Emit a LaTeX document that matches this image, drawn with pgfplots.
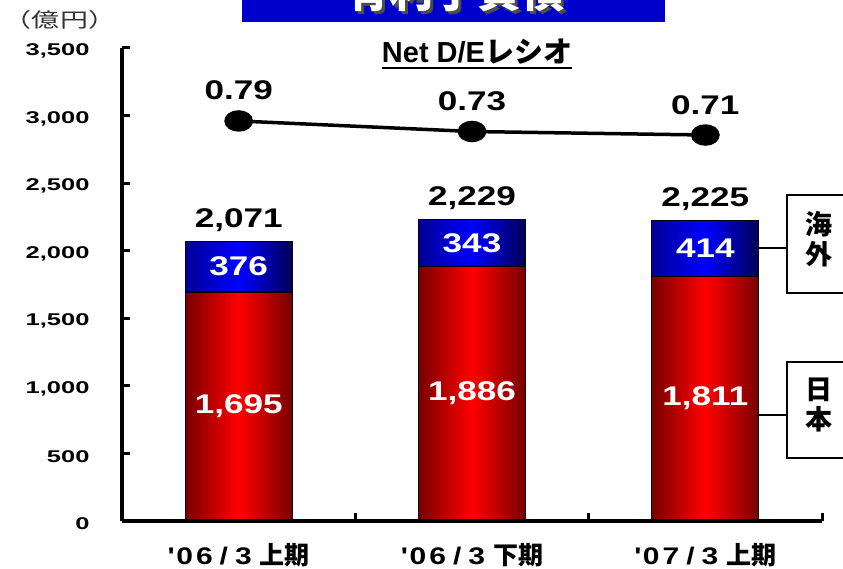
\documentclass[border=0pt]{standalone}
\usepackage{fontspec}
\setmainfont{Liberation Sans}[FakeStretch=1.3]
\newfontfamily\tickfont{Liberation Sans}[FakeStretch=1.5]
\newfontfamily\catfont{Liberation Sans}[FakeStretch=1.25]
\newfontfamily\plainsans{Liberation Sans}
\newfontfamily\cjk{Noto Sans CJK JP}
\usepackage{pgfplots}
\usepackage{pgfplotstable}
\pgfplotsset{compat=1.18}

\definecolor{barred}{RGB}{255,0,0}
\definecolor{darkred}{RGB}{120,0,0}
\definecolor{barblue}{RGB}{0,0,255}
\definecolor{leftblue}{RGB}{0,0,150}
\definecolor{darkblue}{RGB}{0,0,85}
\definecolor{titleblue}{RGB}{0,0,204}

\pgfkeys{/pgf/number format/.cd, 1000 sep={,}, assume math mode=true}

% interest-bearing debt (100 million yen) and Net D/E ratio
\pgfplotstableread{
x jp os total de
0 1695 376 2071 0.79
1 1886 343 2229 0.73
2 1811 414 2225 0.71
}\debt

\pgfplotsset{
  base/.style={
    scale only axis, width=700pt, height=473pt,
    xmin=-0.5, xmax=2.5,
    at={(122pt,47pt)}, anchor=south west,
  },
  barlabel/.style={
    every node near coord/.append style={font=\bfseries\fontsize{27}{27}\selectfont},
  },
}
\newcommand{\cat}[3]{{\catfont\bfseries\textquotesingle\kern3pt#1\kern3pt#2\kern7pt/\kern7pt3}\hspace{8pt}{\cjk\bfseries\fontsize{25}{25}\selectfont #3}}

\begin{document}
\begin{tikzpicture}[x=1pt,y=1pt]
% title box, cut by the top edge of the page
\fill[titleblue] (242,546) rectangle (665,640);
\node[anchor=base, text=black!70, font=\cjk\bfseries\fontsize{44}{44}\selectfont] at (458,557) {有利子負債};
\node[anchor=base, text=white, font=\cjk\bfseries\fontsize{44}{44}\selectfont] at (455,560) {有利子負債};

% unit
\node[text=black!80, font=\cjk\fontsize{20}{20}\selectfont, xscale=1.4, transform shape] at (60,548) {（億円）};

% subtitle
\node (st) [anchor=base, inner sep=0pt, font=\bfseries\fontsize{29}{29}\selectfont] at (477,505)
  {{\plainsans Net D/E}{\cjk\bfseries レシオ}};
\draw[line width=2.4pt] ([yshift=-5pt]st.base west) -- ([yshift=-5pt]st.base east);

% stacked bars, one axis per period so each bar gets its own shading
\pgfplotsinvokeforeach{0,1,2}{
\begin{axis}[base, hide axis, ymin=0, ymax=3500,
  ybar stacked, bar width=107pt]
\addplot[draw=black, line width=1.2pt, left color=darkred, right color=darkred, middle color=barred]
  table[x=x, y=jp, restrict x to domain=#1:#1] {\debt};
\addplot[draw=black, line width=1.2pt, left color=leftblue, right color=darkblue, middle color=barblue]
  table[x=x, y=os, restrict x to domain=#1:#1] {\debt};
\end{axis}
}

% labels inside and above the bars
\begin{axis}[base, hide axis, ymin=0, ymax=3500, nodes near coords, barlabel]
\addplot[draw=none, mark=none, point meta=\thisrow{jp},
  every node near coord/.append style={anchor=center, text=white}]
  table[x=x, y expr=\thisrow{jp}/2] {\debt};
\addplot[draw=none, mark=none, point meta=\thisrow{os},
  every node near coord/.append style={anchor=center, text=white}]
  table[x=x, y expr=\thisrow{jp}+\thisrow{os}/2] {\debt};
\addplot[draw=none, mark=none, point meta=\thisrow{total},
  every node near coord/.append style={anchor=base, yshift=14pt, text=black}]
  table[x=x, y=total] {\debt};
\end{axis}

% axis frame, ticks and category names
\begin{axis}[base,
  ymin=0, ymax=3500,
  axis lines*=left,
  axis line style={line width=3.5pt, black},
  tick align=inside,
  major tick length=8pt,
  tick style={line width=3pt, black},
  ytick={0,500,...,3500},
  yticklabel style={font=\tickfont\bfseries\fontsize{17}{17}\selectfont, xshift=-29pt, yshift=-3pt},
  xtick={0.5,1.5,2.5}, xticklabels={},
  extra x ticks={0,1,2},
  extra x tick labels={\cat{0}{6}{上期}, \cat{0}{6}{下期}, \cat{0}{7}{上期}},
  extra x tick style={major tick length=0pt,
    xticklabel style={font=\fontsize{24}{24}\selectfont, anchor=center, yshift=-34pt}},
]
\addplot[draw=none] coordinates {(0,0)};
\end{axis}

% Net D/E ratio line
\begin{axis}[base, hide axis, ymin=-1.487, ymax=1.2054,
  nodes near coords={\pgfmathprintnumber[fixed, fixed zerofill, precision=2]{\pgfplotspointmeta}},
  every node near coord/.append style={anchor=base, yshift=21pt,
    font=\bfseries\fontsize{27}{27}\selectfont, text=black},
]
\addplot[black, line width=3.5pt, mark=*, mark size=9pt,
  mark options={xscale=1.4, fill=black}]
  table[x=x, y=de] {\debt};
\end{axis}

% side labels
\draw[line width=1.5pt] (757,320) -- (787,320);
\draw[line width=1.5pt] (757,153) -- (787,153);
\draw[line width=1.5pt, fill=white] (787,275) rectangle (870,373);
\draw[line width=1.5pt, fill=white] (787,110) rectangle (870,206);
\node[align=center, font=\cjk\bfseries\fontsize{27}{30}\selectfont] at (819,329) {海\\外};
\node[align=center, font=\cjk\bfseries\fontsize{27}{30}\selectfont] at (819,163) {日\\本};

\pgfresetboundingbox
\path[use as bounding box] (0,0) rectangle (843,568);
\end{tikzpicture}
\end{document}
